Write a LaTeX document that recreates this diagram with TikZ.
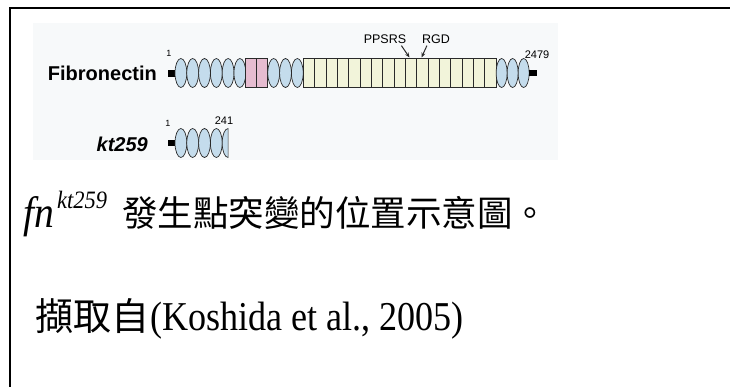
\documentclass[tikz,border=0pt]{standalone}
\usepackage{fontspec}
\setmainfont{Liberation Serif}
\newfontfamily\arialf{Liberation Sans}
\newfontfamily\cjkf{Noto Sans CJK TC}
\usetikzlibrary{arrows.meta}
\definecolor{bgc}{HTML}{F7F9FA}
\definecolor{bluec}{HTML}{C4DCEC}
\definecolor{pinkc}{HTML}{E6BCD0}
\definecolor{yelc}{HTML}{F2F4DA}
\definecolor{edgec}{HTML}{2A2A2A}
\tikzset{
  dom/.style={draw=edgec, fill=bluec, line width=0.7pt},
  pbox/.style={draw=edgec, fill=pinkc, line width=0.7pt},
  ybox/.style={draw=edgec, fill=yelc, line width=0.7pt},
  term/.style={fill=black},
  lab/.style={inner sep=0pt, font=\arialf\fontsize{9}{9}\selectfont},
  site/.style={inner sep=0pt, font=\arialf\fontsize{12.5}{12.5}\selectfont},
  pname/.style={inner sep=0pt, anchor=base east, font=\arialf\bfseries\fontsize{20}{20}\selectfont},
  marker/.style={-{Stealth[length=5pt,width=4pt]}, line width=1pt, draw=edgec},
  captxt/.style={inner sep=0pt, anchor=base west}
}
\begin{document}
\begin{tikzpicture}[x=1pt,y=-1pt]
\useasboundingbox (0,0) rectangle (730,387);
\fill[white] (0,0) rectangle (730,387);
% frame
\draw[line width=2.2pt] (10,388) -- (10,8) -- (731,8);
% figure background
\fill[bgc] (33,23) rectangle (558,160);

% ---- Fibronectin row ----
\fill[term] (168,70) rectangle (175.5,77);
\foreach \i in {0,...,5}
  \draw[dom] ({175+5.9+11.8*\i},73) ellipse [x radius=5.9pt, y radius=14.5pt];
\foreach \i in {0,1}
  \draw[pbox] ({245.8+11*\i},58.5) rectangle +(11,29);
\foreach \i in {0,...,2}
  \draw[dom] ({267.8+5.9+11.8*\i},73) ellipse [x radius=5.9pt, y radius=14.5pt];
\foreach \i in {0,...,16}
  \draw[ybox] ({303.2+11.35*\i},58.5) rectangle +(11.35,29);
\foreach \i in {0,...,2}
  \draw[dom] ({496.15+5.5+11*\i},73) ellipse [x radius=5.5pt, y radius=14.5pt];
\fill[term] (528.6,70) rectangle (537,76.5);

\node[pname] (fib) at (157,81) {Fibronectin};
\node[lab] (f1) at (169,53) {1};
\node[lab, font=\arialf\fontsize{11}{11}\selectfont] (f2479) at (537,55) {2479};
\node[site] (ppsrs) at (385,39) {PPSRS};
\node[site] (rgd) at (436,39) {RGD};
\coordinate (ppsrsTip) at (409.5,57.5);
\coordinate (rgdTip) at (421.5,57.5);
\draw[marker] (ppsrs.south east) ++(-5,2) -- (ppsrsTip);
\draw[marker] (rgd.south west) ++(5,2) -- (rgdTip);

% ---- kt259 row ----
\fill[term] (168,140) rectangle (175.5,146.5);
\foreach \i in {0,...,3}
  \draw[dom] ({175+5.9+11.8*\i},143) ellipse [x radius=5.9pt, y radius=14.5pt];
\draw[dom] (228.1,128.5) arc[start angle=90, end angle=270, x radius=5.9pt, y radius=14.5pt] -- cycle;
\node[pname, font=\arialf\bfseries\itshape\fontsize{20}{20}\selectfont] (kt) at (148,152) {kt259};
\node[lab] (k1) at (168,123) {1};
\node[lab, font=\arialf\fontsize{11}{11}\selectfont] (k241) at (224,121) {241};

% ---- captions ----
\node[captxt] (fn) at (23,228) {\scalebox{0.9}[1]{\fontsize{44}{44}\selectfont\itshape fn}};
\node[captxt] (sup) at (57,209) {\scalebox{0.9}[1]{\fontsize{25}{25}\selectfont\itshape kt259}};
\node[captxt] (cap1) at (122,227) {\cjkf\fontsize{35.5}{35.5}\selectfont 發生點突變的位置示意圖。};
\node[captxt] (cap2a) at (35,330) {\cjkf\fontsize{38}{38}\selectfont 擷取自};
\node[captxt] (cap2b) at (150,330) {\scalebox{0.88}[1]{\fontsize{41}{41}\selectfont (Koshida et al., 2005)}};
\end{tikzpicture}
\end{document}
